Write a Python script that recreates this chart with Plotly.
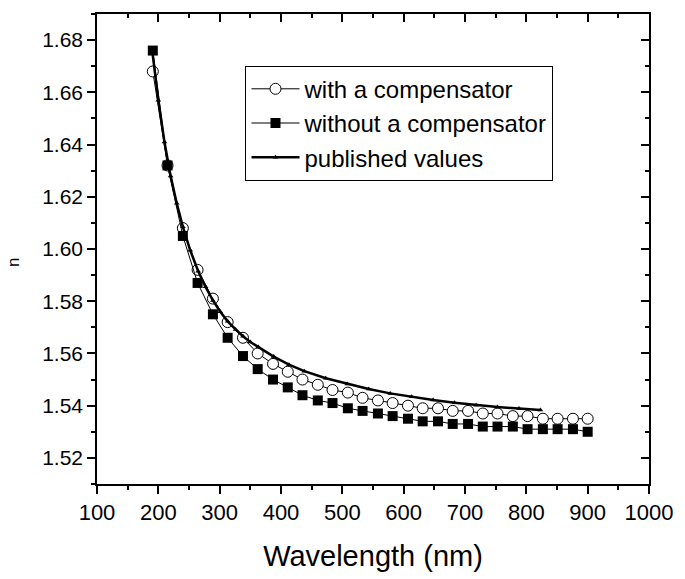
import plotly.graph_objects as go

# Wavelength (nm) for measured series
wl = [191, 215, 240, 264, 289, 313, 338, 362, 387, 411, 435, 460, 484, 509, 533,
      558, 582, 607, 631, 656, 680, 705, 729, 753, 778, 802, 827, 851, 876, 900]

n_with = [1.668, 1.632, 1.608, 1.592, 1.581, 1.572, 1.566, 1.560, 1.556, 1.553,
          1.550, 1.548, 1.546, 1.545, 1.543, 1.542, 1.541, 1.540, 1.539, 1.539,
          1.538, 1.538, 1.537, 1.537, 1.536, 1.536, 1.535, 1.535, 1.535, 1.535]

n_without = [1.676, 1.632, 1.605, 1.587, 1.575, 1.566, 1.559, 1.554, 1.550, 1.547,
             1.544, 1.542, 1.541, 1.539, 1.538, 1.537, 1.536, 1.535, 1.534, 1.534,
             1.533, 1.533, 1.532, 1.532, 1.532, 1.531, 1.531, 1.531, 1.531, 1.530]

wl_pub = [190, 200, 210, 220, 230, 240, 252, 265, 277, 289, 301, 313, 326, 338,
          350, 363, 388, 413, 438, 473, 508, 543, 578, 613, 648, 683, 718, 753,
          788, 823]
n_pub = [1.676, 1.657, 1.641, 1.628, 1.6175, 1.6085, 1.5995, 1.5915, 1.5855,
         1.5803, 1.5760, 1.5723, 1.5692, 1.5666, 1.5644, 1.5625, 1.5588, 1.5557,
         1.5532, 1.5505, 1.5483, 1.5464, 1.5447, 1.5434, 1.5422, 1.5411, 1.5402,
         1.5395, 1.5389, 1.5383]

x_ticks = [100, 200, 300, 400, 500, 600, 700, 800, 900, 1000]
y_ticks = [1.52, 1.54, 1.56, 1.58, 1.60, 1.62, 1.64, 1.66, 1.68]

FONT = "Arial, Liberation Sans, sans-serif"

fig = go.Figure()
fig.add_trace(go.Scatter(
    x=wl, y=n_with, mode="lines+markers", name="with a compensator",
    line=dict(color="black", width=1),
    marker=dict(symbol="circle", size=11, color="white",
                line=dict(color="black", width=1))))
fig.add_trace(go.Scatter(
    x=wl, y=n_without, mode="lines+markers", name="without a compensator",
    line=dict(color="black", width=1),
    marker=dict(symbol="square", size=10, color="black",
                line=dict(color="black", width=0))))
fig.add_trace(go.Scatter(
    x=wl_pub, y=n_pub, mode="lines+markers", name="published values",
    line=dict(color="black", width=2.5),
    marker=dict(symbol="triangle-up", size=5, color="black")))
# invisible trace carrying the mirrored (inside-tick) axes
fig.add_trace(go.Scatter(
    x=wl_pub, y=n_pub, xaxis="x2", yaxis="y2", mode="lines",
    line=dict(color="rgba(0,0,0,0)"), showlegend=False, hoverinfo="skip"))

common = dict(showgrid=False, zeroline=False, showline=True,
              linecolor="black", linewidth=1.5, tickcolor="black",
              tickwidth=1.5)

fig.update_layout(
    width=685, height=579,
    margin=dict(l=97, r=28, t=14, b=95),
    paper_bgcolor="white", plot_bgcolor="white",
    font=dict(family=FONT, color="black"),
    xaxis=dict(range=[100, 1000], tickvals=x_ticks, ticks="outside", ticklen=8,
               minor=dict(dtick=50, tick0=100, ticks="outside", ticklen=4,
                          tickcolor="black", tickwidth=1.5),
               tickfont=dict(size=22, family=FONT),
               title=dict(text="Wavelength (nm)", font=dict(size=29, family=FONT),
                          standoff=22),
               **common),
    yaxis=dict(range=[1.51, 1.69], tickvals=y_ticks, tickformat=".2f",
               ticks="outside", ticklen=8,
               minor=dict(dtick=0.01, tick0=1.51, ticks="outside", ticklen=4,
                          tickcolor="black", tickwidth=1.5),
               tickfont=dict(size=21, family=FONT),
               **common),
    xaxis2=dict(range=[100, 1000], overlaying="x", side="top", anchor="y2",
                tickvals=x_ticks, ticks="inside", ticklen=8, showticklabels=False,
                minor=dict(dtick=50, tick0=100, ticks="inside", ticklen=4,
                           tickcolor="black", tickwidth=1.5),
                **common),
    yaxis2=dict(range=[1.51, 1.69], overlaying="y", side="right", anchor="x2",
                tickvals=y_ticks, ticks="inside", ticklen=8, showticklabels=False,
                minor=dict(dtick=0.01, tick0=1.51, ticks="inside", ticklen=4,
                           tickcolor="black", tickwidth=1.5),
                **common),
    legend=dict(x=0.269, y=0.89, xanchor="left", yanchor="top",
                bordercolor="black", borderwidth=1, bgcolor="white",
                font=dict(size=24, family=FONT), itemwidth=48,
                tracegroupgap=0),
    annotations=[dict(text="n", x=-0.173, y=0.47, xref="paper", yref="paper",
                      textangle=-90, showarrow=False,
                      font=dict(size=17, family=FONT, color="black"))],
    showlegend=True,
)

fig.write_html("out.html")
